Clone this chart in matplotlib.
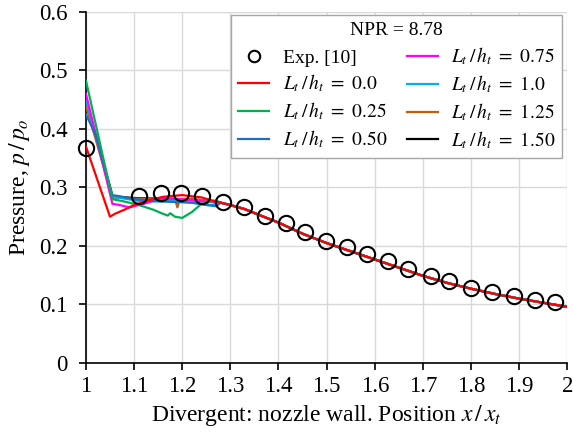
import numpy as np
import matplotlib
matplotlib.use("Agg")
import matplotlib.pyplot as plt
from matplotlib.ticker import FuncFormatter

plt.rcParams['font.family'] = ['Liberation Serif', 'DejaVu Serif']
plt.rcParams['mathtext.fontset'] = 'stix'

# experimental points
exp_x = [1.0, 1.110, 1.156, 1.198, 1.241, 1.285, 1.329, 1.373, 1.415, 1.455, 1.499,
         1.543, 1.584, 1.627, 1.670, 1.716, 1.755, 1.799, 1.844, 1.890, 1.933, 1.974]
exp_y = [0.368, 0.285, 0.290, 0.290, 0.286, 0.276, 0.266, 0.252, 0.239, 0.224, 0.2085,
         0.199, 0.186, 0.174, 0.161, 0.149, 0.140, 0.129, 0.121, 0.114, 0.108, 0.104]

# common downstream part shared by all simulations
tail_x = [1.28, 1.30, 1.33, 1.36, 1.40, 1.45, 1.50, 1.55, 1.60, 1.65, 1.70,
          1.75, 1.80, 1.85, 1.90, 1.95, 2.00]
tail_y = [0.274, 0.270, 0.263, 0.253, 0.240, 0.221, 0.205, 0.191, 0.177, 0.163, 0.149,
          0.137, 0.127, 0.118, 0.110, 0.103, 0.096]

# upstream part of each simulation
red_x = [1.0, 1.05, 1.06, 1.08, 1.10, 1.13, 1.16, 1.20, 1.24, 1.27]
red_y = [0.370, 0.250, 0.255, 0.262, 0.270, 0.278, 0.284, 0.287, 0.283, 0.276]
green_x = [1.0, 1.055, 1.08, 1.11, 1.14, 1.16, 1.17, 1.175, 1.185, 1.20, 1.22, 1.24, 1.27]
green_y = [0.483, 0.280, 0.276, 0.270, 0.262, 0.255, 0.252, 0.256, 0.250, 0.248, 0.258, 0.272, 0.278]
blue_x = [1.0, 1.02, 1.055, 1.07, 1.10, 1.13, 1.16, 1.19, 1.22, 1.25, 1.27]
blue_y = [0.425, 0.390, 0.287, 0.285, 0.280, 0.278, 0.276, 0.275, 0.274, 0.270, 0.268]
mag_x = [1.0, 1.055, 1.07, 1.09, 1.10, 1.12, 1.15, 1.18, 1.21, 1.24, 1.27]
mag_y = [0.460, 0.272, 0.270, 0.266, 0.268, 0.272, 0.280, 0.281, 0.279, 0.276, 0.275]
cyan_x = [1.0, 1.055, 1.08, 1.11, 1.14, 1.17, 1.20, 1.23, 1.26]
cyan_y = [0.450, 0.284, 0.281, 0.277, 0.276, 0.277, 0.276, 0.273, 0.270]
orange_x = [1.0, 1.055, 1.10, 1.15, 1.185, 1.19, 1.195, 1.22, 1.26]
orange_y = [0.440, 0.283, 0.281, 0.281, 0.280, 0.266, 0.280, 0.281, 0.276]
black_x = [1.0, 1.055, 1.10, 1.15, 1.20, 1.25]
black_y = [0.450, 0.285, 0.282, 0.281, 0.280, 0.277]

series = [
    ("0.0", red_x, red_y, "#ff0000"),
    ("0.25", green_x, green_y, "#00b050"),
    ("0.50", blue_x, blue_y, "#1f6fc0"),
    ("0.75", mag_x, mag_y, "#ff00ff"),
    ("1.0", cyan_x, cyan_y, "#00b0f0"),
    ("1.25", orange_x, orange_y, "#c55a11"),
    ("1.50", black_x, black_y, "#000000"),
]

fig = plt.figure(figsize=(5.73, 4.34), dpi=100)
ax = fig.add_axes([0.150, 0.1636, 0.840, 0.8088])

handles = {}
zo = {"0.0": 9, "0.25": 8}
for lab, xs, ys, c in reversed(series):
    x = np.concatenate([xs, tail_x])
    y = np.concatenate([ys, tail_y])
    h, = ax.plot(x, y, color=c, lw=1.6, zorder=zo.get(lab, 3),
                 label=r"$L_t\,/\,h_t\ =\ %s$" % lab)
    handles[lab] = h

hexp, = ax.plot(exp_x, exp_y, 'o', ms=11, mfc='none', mec='black', mew=1.5,
                zorder=10, label="Exp. [10]", clip_on=False)

ax.set_xlim(1, 2)
ax.set_ylim(0, 0.6)
ax.set_xticks(np.arange(1, 2.01, 0.1))
ax.set_yticks(np.arange(0, 0.61, 0.1))
ax.xaxis.set_major_formatter(FuncFormatter(lambda v, p: "%g" % round(v, 2)))
ax.yaxis.set_major_formatter(FuncFormatter(lambda v, p: "%g" % round(v, 2)))
ax.grid(True, color='#d9d9d9', lw=1)
ax.set_axisbelow(True)
for s in ['top', 'right']:
    ax.spines[s].set_visible(False)
for s in ['left', 'bottom']:
    ax.spines[s].set_linewidth(1.2)
ax.tick_params(labelsize=16.5, length=5, width=1.2, direction='out')
ax.tick_params(axis='y', pad=8)
ax.tick_params(axis='x', pad=4.5)

ax.set_xlabel(r"Divergent: nozzle wall. Position $x\,/\,x_t$", fontsize=17, labelpad=4)
ax.set_ylabel(r"Pressure, $p\,/\,p_o$", fontsize=17, labelpad=5)

order = [hexp, handles["0.0"], handles["0.25"], handles["0.50"],
         handles["0.75"], handles["1.0"], handles["1.25"], handles["1.50"]]
leg = ax.legend(handles=order, ncol=2, title="NPR = 8.78", loc='upper right',
                bbox_to_anchor=(0.99, 0.99), borderaxespad=0, fontsize=14,
                title_fontsize=14, fancybox=False, edgecolor='#a6a6a6',
                framealpha=1, markerscale=0.75, handlelength=1.6,
                columnspacing=1.0, labelspacing=0.32, handletextpad=0.7,
                borderpad=0.35)
leg.get_frame().set_linewidth(1.0)
leg.set_zorder(20)

fig.savefig("out.png", dpi=100)
